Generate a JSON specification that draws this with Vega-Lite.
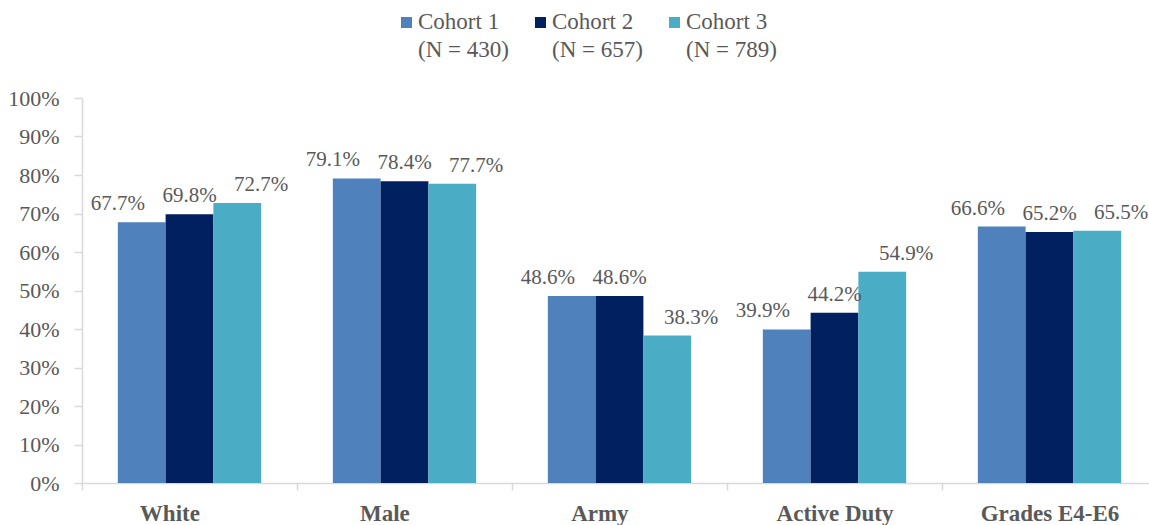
{
  "$schema": "https://vega.github.io/schema/vega-lite/v6.json",
  "width": 1075,
  "height": 385,
  "autosize": {"type": "none"},
  "padding": {"left": 82, "top": 98, "right": 0, "bottom": 42},
  "config": {
    "view": {"stroke": null},
    "font": "Liberation Serif",
    "text": {"font": "Liberation Serif"},
    "legend": {"labelFont": "Liberation Serif"},
    "axis": {"labelFont": "Liberation Serif"}
  },
  "data": {
    "values": [
      {"category": "White", "cohort": "Cohort 1|(N = 430)", "value": 0.677},
      {"category": "White", "cohort": "Cohort 2|(N = 657)", "value": 0.698},
      {"category": "White", "cohort": "Cohort 3|(N = 789)", "value": 0.727},
      {"category": "Male", "cohort": "Cohort 1|(N = 430)", "value": 0.791},
      {"category": "Male", "cohort": "Cohort 2|(N = 657)", "value": 0.784},
      {"category": "Male", "cohort": "Cohort 3|(N = 789)", "value": 0.777},
      {"category": "Army", "cohort": "Cohort 1|(N = 430)", "value": 0.486},
      {"category": "Army", "cohort": "Cohort 2|(N = 657)", "value": 0.486},
      {"category": "Army", "cohort": "Cohort 3|(N = 789)", "value": 0.383},
      {"category": "Active Duty", "cohort": "Cohort 1|(N = 430)", "value": 0.399},
      {"category": "Active Duty", "cohort": "Cohort 2|(N = 657)", "value": 0.442},
      {"category": "Active Duty", "cohort": "Cohort 3|(N = 789)", "value": 0.549},
      {"category": "Grades E4-E6", "cohort": "Cohort 1|(N = 430)", "value": 0.666},
      {"category": "Grades E4-E6", "cohort": "Cohort 2|(N = 657)", "value": 0.652},
      {"category": "Grades E4-E6", "cohort": "Cohort 3|(N = 789)", "value": 0.655}
    ]
  },
  "encoding": {
    "x": {
      "field": "category",
      "type": "nominal",
      "sort": ["White", "Male", "Army", "Active Duty", "Grades E4-E6"],
      "scale": {"paddingInner": 0, "paddingOuter": 0},
      "axis": {
        "title": null,
        "labelAngle": 0,
        "labelExpr": "indexof(['White', 'Male', 'Army'], datum.label) >= 0 ? datum.label + '\u00a0\u00a0\u00a0\u00a0\u00a0\u00a0\u00a0\u200b' : datum.label",
        "labelFont": "Liberation Serif",
        "labelFontWeight": "bold",
        "labelFontSize": 23,
        "labelColor": "#595959",
        "labelPadding": 12,
        "tickBand": "extent",
        "tickSize": 7,
        "tickColor": "#D9D9D9",
        "tickWidth": 1.5,
        "domainColor": "#D9D9D9",
        "domainWidth": 1.5
      }
    },
    "y": {
      "field": "value",
      "type": "quantitative",
      "scale": {"domain": [0, 1], "nice": false},
      "axis": {
        "title": null,
        "grid": false,
        "values": [0, 0.1, 0.2, 0.3, 0.4, 0.5, 0.6, 0.7, 0.8, 0.9, 1],
        "format": ".0%",
        "labelFont": "Liberation Serif",
        "labelFontSize": 22,
        "labelColor": "#595959",
        "labelPadding": 15,
        "tickSize": 8,
        "tickColor": "#D9D9D9",
        "tickWidth": 1.5,
        "domainColor": "#D9D9D9",
        "domainWidth": 1.5
      }
    }
  },
  "layer": [
    {
      "mark": {"type": "bar"},
      "encoding": {
        "xOffset": {"field": "cohort", "type": "nominal", "scale": {"paddingInner": 0, "paddingOuter": 0.75}},
        "color": {
          "field": "cohort",
          "type": "nominal",
          "scale": {
            "domain": ["Cohort 1|(N = 430)", "Cohort 2|(N = 657)", "Cohort 3|(N = 789)"],
            "range": ["#4F81BD", "#002060", "#4BACC6"]
          },
          "legend": {
            "orient": "none",
            "legendX": 313,
            "legendY": -87,
            "direction": "horizontal",
            "title": null,
            "padding": 0,
            "symbolType": "square",
            "symbolSize": 121,
            "symbolStrokeWidth": 0,
            "labelFont": "Liberation Serif",
            "labelFontSize": 23,
            "labelColor": "#595959",
            "labelOffset": 0,
            "columnPadding": 20,
            "labelLimit": 0,
            "labelBaseline": "alphabetic",
            "labelExpr": "split(datum.label, '|')",
            "encode": {"labels": {"update": {"dy": {"value": 6.5}, "lineHeight": {"value": 28}, "font": {"value": "Liberation Serif"}}}}
          }
        }
      }
    },
    {
      "mark": {"type": "text", "baseline": "alphabetic", "dy": -12, "fontSize": 21, "font": "Liberation Serif", "color": "#595959"},
      "encoding": {
        "xOffset": {"field": "cohort", "type": "nominal", "scale": {"type": "point", "padding": 0.5}},
        "text": {"field": "value", "type": "quantitative", "format": ".1%"}
      }
    }
  ],
  "resolve": {"scale": {"xOffset": "independent"}}
}
